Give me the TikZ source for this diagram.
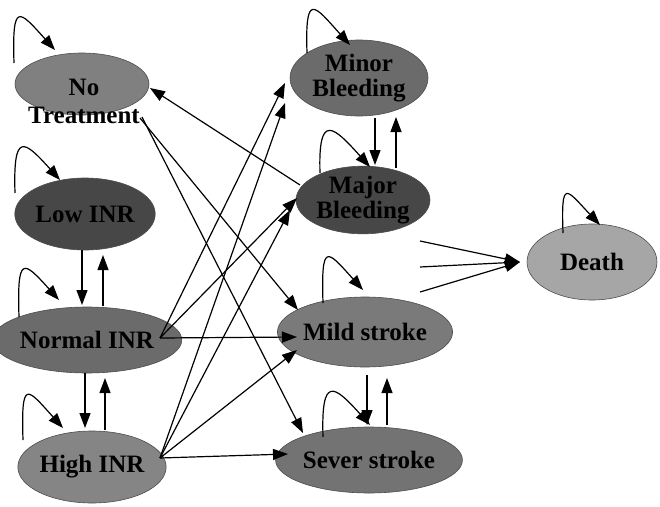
\documentclass[tikz,border=0pt]{standalone}
\usepackage{fontspec}
\setmainfont{Liberation Serif}
\usetikzlibrary{shapes.geometric,arrows.meta,calc}
\newcommand\rp[3]{($(#1.center)+(#2,#3)$)}
\begin{document}
\begin{tikzpicture}[x=1pt,y=-1pt,
  st/.style={ellipse, inner sep=0pt, draw=black!70, line width=0.6pt,
    font=\bfseries\fontsize{25}{25}\selectfont, align=center},
  lbl/.style={inner sep=0pt, font=\bfseries\fontsize{25}{28}\selectfont, align=center},
  arr/.style={-{Triangle[length=15pt,width=11pt]}, line width=1.2pt},
  selfloop/.style={arr},
]
\useasboundingbox (0,0) rectangle (660,506);
% states
\node[st, fill=black!50, minimum width=134, minimum height=62] (nt) at (82,84) {};
\node[lbl] (ntt) at (84,101) {No\\Treatment};
\node[st, fill=black!72, minimum width=140, minimum height=72] (low) at (85,214) {Low INR};
\node[st, fill=black!58, minimum width=140, minimum height=66] (nor) at (87,340) {Normal INR};
\node[st, fill=black!48, minimum width=136, minimum height=72] (high) at (92,467) {High INR};
\node[st, fill=black!58, minimum width=138, minimum height=76] (minb) at (359,78) {Minor\\Bleeding};
\node[st, fill=black!72, minimum width=134, minimum height=66] (majb) at (363,200) {Major\\Bleeding};
\node[st, fill=black!52, minimum width=136, minimum height=70] (mild) at (365,332) {Mild stroke};
\node[st, fill=black!55, minimum width=132, minimum height=66] (sev) at (369,460) {Sever stroke};
\node[st, fill=black!35, minimum width=130, minimum height=76] (death) at (592,262) {Death};
% self loops
\draw[selfloop] \rp{nt}{-68}{-21} .. controls +(-2,-62) and +(-36,-40) .. \rp{nt}{-27}{-34};
\draw[selfloop] \rp{low}{-70}{-21} .. controls +(-2,-62) and +(-36,-40) .. \rp{low}{-25}{-34};
\draw[selfloop] \rp{nor}{-68}{-23} .. controls +(-2,-62) and +(-36,-40) .. \rp{nor}{-28}{-40};
\draw[selfloop] \rp{high}{-69}{-27} .. controls +(-2,-62) and +(-36,-40) .. \rp{high}{-29}{-39};
\draw[selfloop] \rp{minb}{-52}{-25} .. controls +(-2,-62) and +(-36,-40) .. \rp{minb}{-9}{-33};
\draw[selfloop] \rp{majb}{-43}{-27} .. controls +(-2,-62) and +(-36,-40) .. \rp{majb}{7}{-33};
\draw[selfloop] \rp{mild}{-42}{-29} .. controls +(-2,-62) and +(-36,-40) .. \rp{mild}{-2}{-42};
\draw[selfloop] \rp{sev}{-46}{-23} .. controls +(-2,-62) and +(-36,-40) .. \rp{sev}{1}{-35};
\draw[selfloop] \rp{death}{-29}{-29} .. controls +(-2,-55) and +(-34,-36) .. \rp{death}{8}{-37};
% vertical pairs
\draw[arr] \rp{low}{-3}{36} -- \rp{nor}{-5}{-35};
\draw[arr] \rp{nor}{16}{-34} -- \rp{low}{18}{41};
\draw[arr] \rp{nor}{-2}{33} -- \rp{high}{-7}{-39};
\draw[arr] \rp{high}{13}{-37} -- \rp{nor}{18}{38};
\draw[arr] \rp{minb}{16}{40} -- \rp{majb}{12}{-35};
\draw[arr] \rp{majb}{33}{-32} -- \rp{minb}{37}{39};
\draw[arr] \rp{mild}{2}{43} -- \rp{sev}{-2}{-35};
\draw[arr] \rp{sev}{18}{-35} -- \rp{mild}{22}{46};
% cross arrows
\draw[arr] \rp{majb}{-63}{-15} -- \rp{nt}{68}{4};
\draw[arr] \rp{nt}{58}{34} -- \rp{mild}{-67}{-22};
\draw[arr] \rp{nt}{60}{33} -- \rp{sev}{-66}{-27};
\draw[arr] \rp{nor}{73}{-2} -- \rp{minb}{-74}{5};
\draw[arr] \rp{nor}{73}{-2} -- \rp{majb}{-66}{-2};
\draw[arr] \rp{nor}{73}{-2} -- \rp{mild}{-68}{5};
\draw[arr] \rp{high}{68}{-9} -- \rp{minb}{-74}{25};
\draw[arr] \rp{high}{68}{-9} -- \rp{majb}{-73}{10};
\draw[arr] \rp{high}{68}{-9} -- \rp{mild}{-68}{18};
\draw[arr] \rp{high}{68}{-9} -- \rp{sev}{-81}{-6};
% to death
\coordinate (d1) at (420,241);
\coordinate (d2) at (420,267);
\coordinate (d3) at (420,292);
\draw[arr] (d1) -- \rp{death}{-72}{0};
\draw[arr] (d2) -- \rp{death}{-72}{0};
\draw[arr] (d3) -- \rp{death}{-72}{0};
\end{tikzpicture}
\end{document}
